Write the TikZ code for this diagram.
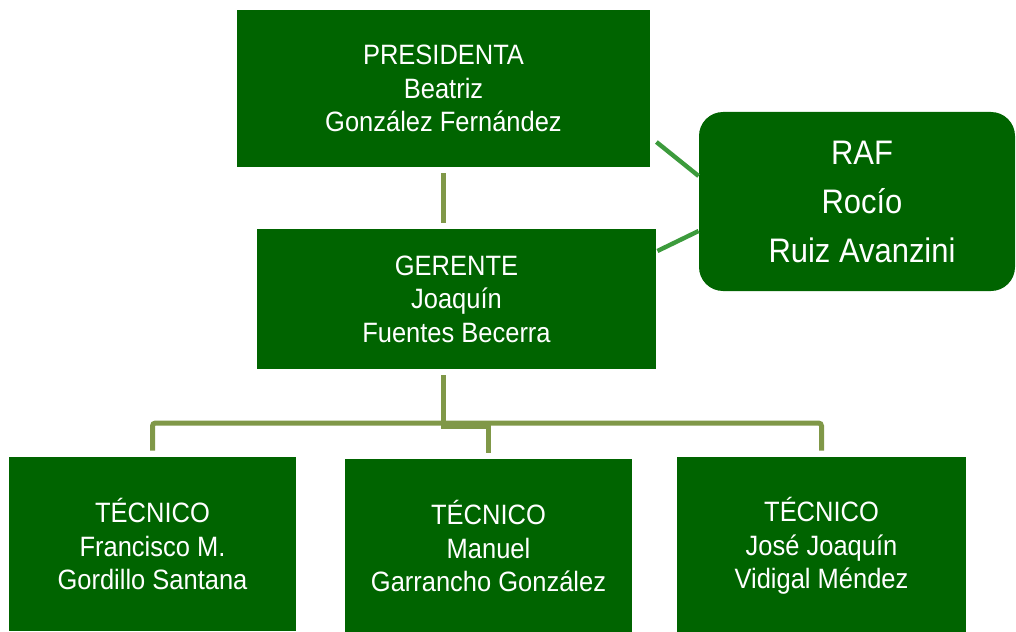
\documentclass[tikz,border=0pt]{standalone}
\usepackage{fontspec}
\setmainfont{Liberation Sans}[FakeStretch=0.91]
\usepackage{tikz}

\definecolor{boxgreen}{RGB}{0,100,0}
\definecolor{olivebar}{RGB}{128,152,72}
\definecolor{linkgreen}{RGB}{60,155,60}

\begin{document}
\begin{tikzpicture}[x=0.5pt, y=-0.5pt,
  post/.style={fill=boxgreen, text=white, align=center, inner sep=0pt,
    font=\fontsize{14}{16.8}\selectfont},
  bar/.style={draw=olivebar, line width=2.5pt},
  link/.style={draw=linkgreen, line width=2.2pt}]

% Fix the page size
\useasboundingbox (0,0) rectangle (1016,631);
\clip (0,0) rectangle (1016,631);

% Draw the boxes
\node[post, minimum width=206.5pt, minimum height=78.5pt] (pres) at (443.5,88.5)
  {PRESIDENTA\\Beatriz\\González Fernández};
\node[post, minimum width=199.5pt, minimum height=70pt] (ger) at (456.5,299)
  {GERENTE\\Joaquín\\Fuentes Becerra};
\node[post, rounded corners=12pt, minimum width=158pt, minimum height=89.5pt,
  font=\fontsize{17}{24.5}\selectfont] (raf) at (857,201.5)
  {\hspace*{5pt}RAF\\\hspace*{5pt}Rocío\\\hspace*{5pt}Ruiz Avanzini};
\node[post, minimum width=143.5pt, minimum height=87pt] (tec1) at (152.5,544)
  {TÉCNICO\\Francisco M.\\Gordillo Santana};
\node[post, minimum width=143.5pt, minimum height=87pt] (tec2) at (488.5,546)
  {TÉCNICO\\Manuel\\Garrancho González};
\node[post, minimum width=144.5pt, minimum height=89pt] (tec3) at (821.5,546)
  {TÉCNICO\\José Joaquín\\Vidigal Méndez};

% Line between presidenta and gerente
\draw[bar, shorten <=3pt, shorten >=3pt] (pres.south) -- (pres.south |- ger.north);

% Lines down to the tecnicos
\coordinate (split) at (pres.south |- 0,426);
\draw[bar] (pres.south |- 0,375) -- (split) -| ([yshift=3pt]tec2.north);
\draw[bar, rounded corners=1.5pt] ([yshift=3pt]tec1.north) -- (tec1.north |- 0,423)
  -- (tec3.north |- 0,423) -- ([yshift=3pt]tec3.north);

% Lines to the RAF
\draw[link] ([xshift=3pt, yshift=-26.75pt]pres.east) -- ([yshift=12.75pt]raf.west);
\draw[link] ([xshift=0.5pt, yshift=24pt]ger.east) -- ([yshift=-14.75pt]raf.west);

\end{tikzpicture}
\end{document}
